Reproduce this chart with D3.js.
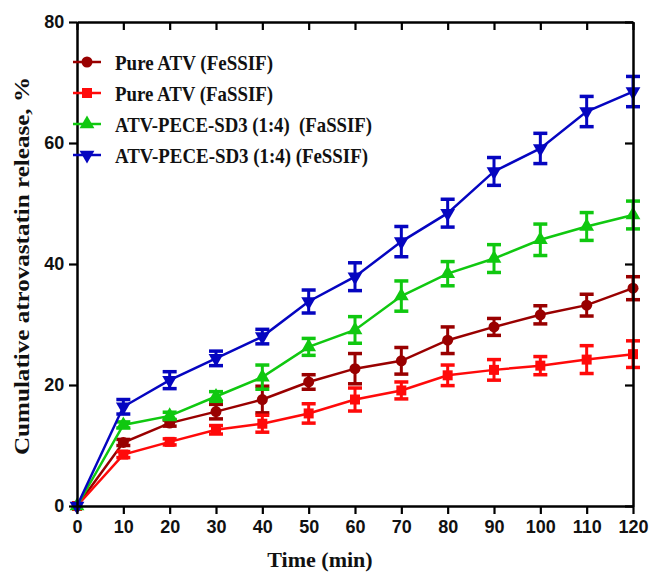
<!DOCTYPE html>
<html><head><meta charset="utf-8">
<script src="https://cdn.jsdelivr.net/npm/d3@7"></script>
<style>body{margin:0;background:#fff}svg{display:block}</style>
</head><body>
<script>
const times = [0,10,20,30,40,50,60,70,80,90,100,110,120];
const seriesNames = ["Pure ATV (FeSSIF)","Pure ATV (FaSSIF)","ATV-PECE-SD3 (1:4)\u00a0\u00a0(FaSSIF)","ATV-PECE-SD3 (1:4) (FeSSIF)"];
const pureFeMean = [0,10.5,13.7,15.6,17.6,20.5,22.7,24.0,27.4,29.6,31.6,33.2,36.0];
const pureFeErr  = [0,0.5,0.5,1.2,2.2,1.2,2.5,2.2,2.2,1.4,1.5,1.8,1.9];
const pureFaMean = [0,8.5,10.6,12.6,13.6,15.3,17.6,19.1,21.6,22.5,23.2,24.2,25.1];
const pureFaErr  = [0,0.5,0.5,0.7,1.4,1.6,1.9,1.4,1.7,1.7,1.5,2.3,2.2];
const sdFaMean = [0,13.4,14.9,18.1,21.3,26.3,29.1,34.7,38.4,40.9,44.0,46.2,48.1];
const sdFaErr  = [0,0.5,0.6,0.8,2.0,1.4,2.2,2.5,2.0,2.3,2.6,2.3,2.3];
const sdFeMean = [0,16.4,20.8,24.4,28.0,33.8,37.9,43.7,48.4,55.3,59.1,65.2,68.5];
const sdFeErr  = [0,1.2,1.4,1.2,1.2,1.9,2.3,2.5,2.3,2.3,2.5,2.5,2.5];
const xTicks = [0,10,20,30,40,50,60,70,80,90,100,110,120];
const yTicks = [0,20,40,60,80];
const xTitle = "Time (min)";
const yTitle = "Cumulative atrovastatin release, %";

const series = [
  {name: seriesNames[0], mean: pureFeMean, err: pureFeErr, color: "#990000", shape: "circle"},
  {name: seriesNames[1], mean: pureFaMean, err: pureFaErr, color: "#ff0a0a", shape: "square"},
  {name: seriesNames[2], mean: sdFaMean, err: sdFaErr, color: "#10c810", shape: "triangleUp"},
  {name: seriesNames[3], mean: sdFeMean, err: sdFeErr, color: "#0505c0", shape: "triangleDown"}
];
const legendWidths = [158, 158, 257, 253];

const W = 651, H = 572;
const m = {left: 77, top: 22, right: 18, bottom: 66};
const svg = d3.select("body").append("svg").attr("width", W).attr("height", H);
const x = d3.scaleLinear().domain([0,120]).range([m.left, W - m.right]);
const y = d3.scaleLinear().domain([0,80]).range([H - m.bottom, m.top]);

const sans = "Arial, 'Liberation Sans', sans-serif";
const serif = "'Liberation Serif', 'Times New Roman', serif";

function symbolPath(shape) {
  if (shape === "circle") return d3.symbol(d3.symbolCircle, 95)();
  if (shape === "square") return d3.symbol(d3.symbolSquare, 100)();
  return d3.symbol(d3.symbolTriangle, 95)();
}
function symbolRotate(shape) { return shape === "triangleDown" ? " rotate(180)" : ""; }

// series
const line = d3.line().x((d,i) => x(times[i])).y(d => y(d));
series.forEach(s => {
  const g = svg.append("g");
  g.append("path").datum(s.mean).attr("d", line).attr("fill","none")
    .attr("stroke", s.color).attr("stroke-width", 2.5);
  times.forEach((t,i) => {
    if (s.err[i] > 0) {
      const x0 = x(t), y1 = y(s.mean[i] + s.err[i]), y2 = y(s.mean[i] - s.err[i]);
      g.append("line").attr("x1", x0).attr("x2", x0).attr("y1", y1).attr("y2", y2)
        .attr("stroke", s.color).attr("stroke-width", 3);
      [y1, y2].forEach(yy => g.append("line").attr("x1", x0 - 7).attr("x2", x0 + 7)
        .attr("y1", yy).attr("y2", yy).attr("stroke", s.color).attr("stroke-width", 3.5));
    }
    g.append("path").attr("d", symbolPath(s.shape))
      .attr("transform", `translate(${x(t)},${y(s.mean[i])})${symbolRotate(s.shape)}`)
      .attr("fill", s.color);
  });
});

// axes
const axW = 2.5;
const xAxis = svg.append("g").attr("transform", `translate(0,${y(0)})`)
  .call(d3.axisBottom(x).tickValues(xTicks).tickSize(8).tickSizeOuter(0));
const yAxis = svg.append("g").attr("transform", `translate(${x(0)},0)`)
  .call(d3.axisLeft(y).tickValues(yTicks).tickSize(8).tickSizeOuter(0));
const topAxis = svg.append("g").attr("transform", `translate(0,${y(80)})`)
  .call(d3.axisBottom(x).tickValues(xTicks).tickSize(8).tickSizeOuter(0).tickFormat(""));
const rightAxis = svg.append("g").attr("transform", `translate(${x(120)},0)`)
  .call(d3.axisLeft(y).tickValues(yTicks).tickSize(8).tickSizeOuter(0).tickFormat(""));
[xAxis, yAxis, topAxis, rightAxis].forEach(a => {
  a.select(".domain").attr("stroke", "#000").attr("stroke-width", axW);
  a.selectAll(".tick line").attr("stroke", "#000").attr("stroke-width", 2.2);
  a.selectAll("text").attr("font-family", sans).attr("font-weight", "bold")
    .attr("font-size", 18).attr("fill", "#111");
});
xAxis.selectAll("text").attr("dy", "0.9em");
yAxis.selectAll("text").attr("dx", "-0.1em");

// titles
svg.append("text").attr("x", 320).attr("y", 567).attr("text-anchor", "middle")
  .attr("font-family", serif).attr("font-weight", "bold").attr("font-size", 22)
  .attr("fill", "#111").text(xTitle);
svg.append("text").attr("transform", `translate(29,266) rotate(-90)`)
  .attr("text-anchor", "middle").attr("font-family", serif).attr("font-weight", "bold")
  .attr("font-size", 21).attr("textLength", 378).attr("lengthAdjust", "spacingAndGlyphs")
  .attr("fill", "#111").text(yTitle);

// legend
const legRows = [62, 93, 124, 155];
series.forEach((s, i) => {
  const ly = legRows[i];
  svg.append("line").attr("x1", 73).attr("x2", 101).attr("y1", ly).attr("y2", ly)
    .attr("stroke", s.color).attr("stroke-width", 2.5);
  svg.append("path").attr("d", symbolPath(s.shape))
    .attr("transform", `translate(87,${ly})${symbolRotate(s.shape)}`).attr("fill", s.color);
  svg.append("text").attr("x", 115).attr("y", ly).attr("dy", "0.35em")
    .attr("font-family", serif).attr("font-weight", "bold").attr("font-size", 21.5)
    .attr("textLength", legendWidths[i]).attr("lengthAdjust", "spacingAndGlyphs")
    .attr("fill", "#111").text(s.name);
});
</script>
</body></html>
